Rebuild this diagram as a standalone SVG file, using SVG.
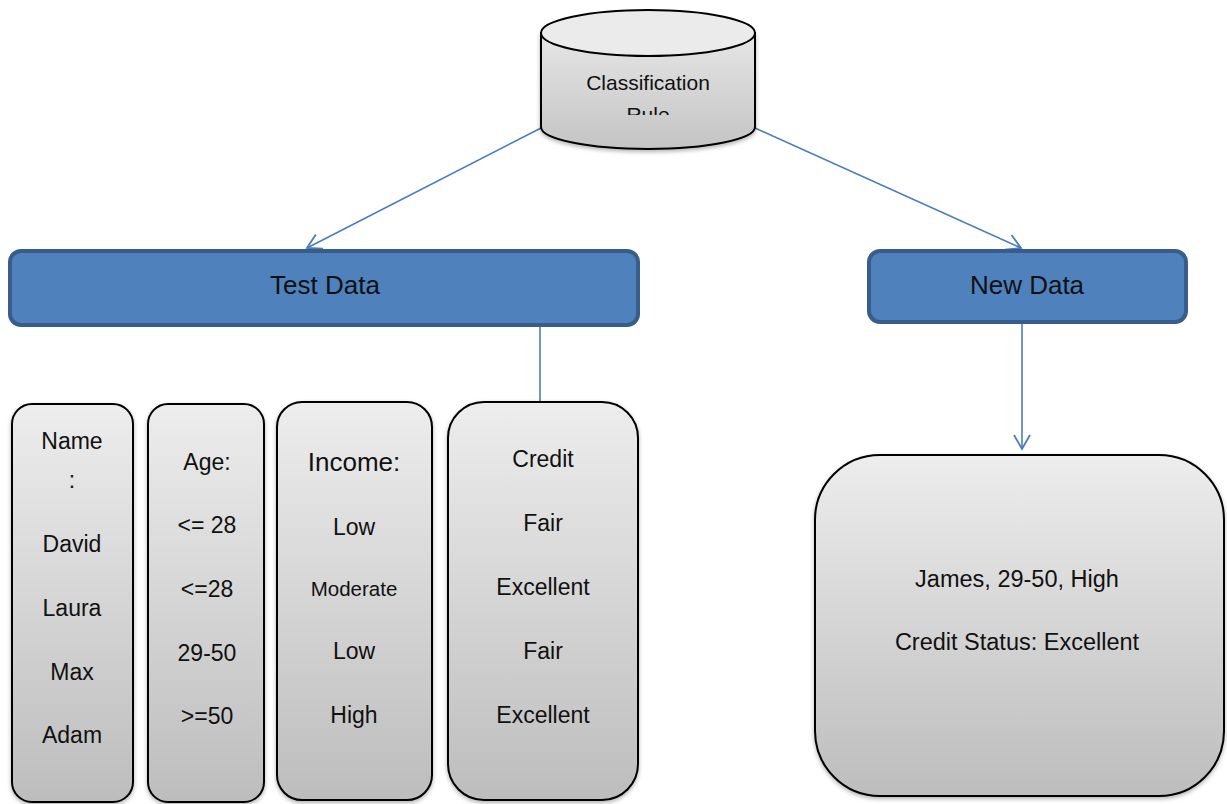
<svg xmlns="http://www.w3.org/2000/svg" width="1227" height="804" viewBox="0 0 1227 804">
  <style>
    text { font-family: "Liberation Sans", Arial, sans-serif; fill: #111; text-anchor: middle; }
    .card { stroke: #000; stroke-width: 2; fill: url(#grayFill); filter: url(#shadow); }
    .bar { fill: #4F81BD; stroke: #385D8A; stroke-width: 4; }
    .link { stroke: #4A7EBB; stroke-width: 1.6; fill: none; }
    .t23 { font-size: 23px; }
    .t26 { font-size: 26px; }
  </style>
  <defs>
    <linearGradient id="grayFill" x1="0" y1="0" x2="0" y2="1">
      <stop offset="0" stop-color="#EDEDED"/>
      <stop offset="1" stop-color="#BDBDBD"/>
    </linearGradient>
    <linearGradient id="cylBody" x1="0" y1="0" x2="0" y2="1">
      <stop offset="0" stop-color="#E6E6E6"/>
      <stop offset="1" stop-color="#C4C4C4"/>
    </linearGradient>
    <filter id="shadow" x="-10%" y="-10%" width="120%" height="120%">
      <feDropShadow dx="0" dy="2" stdDeviation="2" flood-color="#000" flood-opacity="0.3"/>
    </filter>
    <!-- open V arrowhead -->
    <marker id="openArrow" viewBox="0 0 20 20" refX="18" refY="10" markerWidth="20" markerHeight="20" markerUnits="userSpaceOnUse" orient="auto">
      <path d="M4,2 L18,10 L4,18" fill="none" stroke="#4A7EBB" stroke-width="1.8"/>
    </marker>
    <clipPath id="cylText">
      <rect x="541" y="55" width="214" height="60"/>
    </clipPath>
  </defs>

  <!-- connectors -->
  <g id="connectors">
    <line class="link" x1="541" y1="128" x2="307" y2="248" marker-end="url(#openArrow)"/>
    <line class="link" x1="755" y1="128" x2="1021" y2="248" marker-end="url(#openArrow)"/>
    <line class="link" x1="540" y1="327" x2="540" y2="401"/>
    <line class="link" x1="1022" y1="324" x2="1022" y2="449" marker-end="url(#openArrow)"/>
  </g>

  <!-- cylinder -->
  <g id="classification-rule">
    <path d="M541,33 L541,127 A107,22 0 0 0 755,127 L755,33 Z" fill="url(#cylBody)" stroke="#000" stroke-width="2" filter="url(#shadow)"/>
    <ellipse cx="648" cy="33" rx="107" ry="23" fill="#EBEBEB" stroke="#000" stroke-width="2"/>
    <g clip-path="url(#cylText)">
      <text x="648" y="90" font-size="21">Classification</text>
      <text x="648" y="122" font-size="21">Rule</text>
    </g>
  </g>

  <g id="test-data">
    <rect class="bar" x="10" y="251" width="628" height="74" rx="11"/>
    <text class="t26" x="325" y="294">Test Data</text>
  </g>

  <g id="new-data">
    <rect class="bar" x="869" y="251" width="317" height="71" rx="11"/>
    <text class="t26" x="1027" y="294">New Data</text>
  </g>

  <g id="name-column">
    <rect class="card" x="12" y="404" width="121" height="398" rx="20"/>
    <g class="t23">
      <text x="72" y="449">Name</text>
      <text x="72" y="488">:</text>
      <text x="72" y="552">David</text>
      <text x="72" y="616">Laura</text>
      <text x="72" y="680">Max</text>
      <text x="72" y="743">Adam</text>
    </g>
  </g>

  <g id="age-column">
    <rect class="card" x="148" y="404" width="116" height="398" rx="20"/>
    <g class="t23">
      <text x="207" y="470">Age:</text>
      <text x="207" y="533">&lt;= 28</text>
      <text x="207" y="597">&lt;=28</text>
      <text x="207" y="661">29-50</text>
      <text x="207" y="724">&gt;=50</text>
    </g>
  </g>

  <g id="income-column">
    <rect class="card" x="277" y="402" width="155" height="398" rx="25"/>
    <text x="354" y="471" font-size="26">Income:</text>
    <g class="t23">
      <text x="354" y="535">Low</text>
      <text x="354" y="596" font-size="20.5">Moderate</text>
      <text x="354" y="659">Low</text>
      <text x="354" y="723">High</text>
    </g>
  </g>

  <g id="credit-column">
    <rect class="card" x="448" y="402" width="190" height="398" rx="36"/>
    <g class="t23">
      <text x="543" y="467">Credit</text>
      <text x="543" y="531">Fair</text>
      <text x="543" y="595">Excellent</text>
      <text x="543" y="659">Fair</text>
      <text x="543" y="723">Excellent</text>
    </g>
  </g>

  <g id="result">
    <rect class="card" x="815" y="455" width="409" height="341" rx="65"/>
    <text x="1017" y="587" font-size="23.5">James, 29-50, High</text>
    <text x="1017" y="650" font-size="23.5">Credit Status: Excellent</text>
  </g>
</svg>
